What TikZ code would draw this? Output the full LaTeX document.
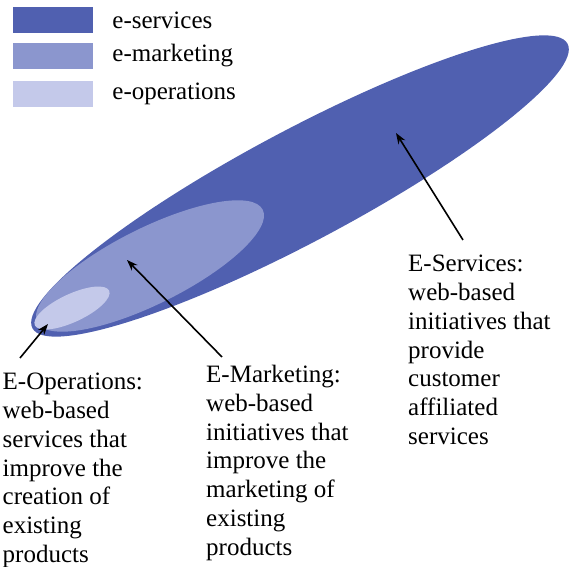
\documentclass[tikz,border=0pt]{standalone}
\usepackage{fontspec}
\setmainfont{Liberation Serif}
\usetikzlibrary{positioning,arrows.meta}
\definecolor{srvblue}{RGB}{80,96,176}
\definecolor{mktblue}{RGB}{139,150,206}
\definecolor{opsblue}{RGB}{196,201,234}
\tikzset{
>={Stealth[length=11pt,width=8pt]},
  keybox/.style={
    rectangle,
    minimum width=80pt,
    minimum height=26pt,
    inner sep=0pt},
  keytext/.style={
    inner sep=0pt,
    font=\fontsize{25}{30}\selectfont},
  desc/.style={
    inner sep=0pt,
    anchor=north west,
    align=left,
    font=\fontsize{25}{28.8}\selectfont},
  pointer/.style={draw, ->, line width=1.6pt},
}
\begin{document}
\begin{tikzpicture}[x=1pt,y=1pt]
  \useasboundingbox (0,0) rectangle (571,567);
  % the three areas
  \fill[srvblue, rotate around={28:(300,381)}] (300,381) ellipse [x radius=303pt, y radius=56pt];
  \fill[mktblue, rotate around={26.5:(150,301)}] (150,301) ellipse [x radius=126pt, y radius=38pt];
  \fill[opsblue, rotate around={25:(72,259)}] (72,259) ellipse [x radius=41pt, y radius=14pt];
  \coordinate (srvtip) at (396,434);
  \coordinate (mkttip) at (127,307);
  \coordinate (opstip) at (48,243);
  % key
  \node[keybox, fill=srvblue] (keysrv) at (53,547) {};
  \node[keybox, fill=mktblue] (keymkt) at (53,511) {};
  \node[keybox, fill=opsblue] (keyops) at (53,473) {};
  \node[keytext, right=19pt of keysrv] (keysrvtxt) {e-services};
  \node[keytext, right=19pt of keymkt] (keymkttxt) {e-marketing};
  \node[keytext, right=19pt of keyops] (keyopstxt) {e-operations};
  % descriptions
  \node[desc] (ops) at (2.5,194) {E-Operations:\\web-based\\services that\\improve the\\creation of\\existing\\products};
  \node[desc] (mkt) at (206,202) {E-Marketing:\\web-based\\initiatives that\\improve the\\marketing of\\existing\\products};
  \node[desc] (srv) at (408,312) {E-Services:\\web-based\\initiatives that\\provide\\customer\\affiliated\\services};
  \draw[pointer] ([shift={(17.5,15)}]ops.north west) -- (opstip);
  \draw[pointer] ([shift={(16,8)}]mkt.north west) -- (mkttip);
  \draw[pointer] ([shift={(55,15)}]srv.north west) -- (srvtip);
\end{tikzpicture}
\end{document}
